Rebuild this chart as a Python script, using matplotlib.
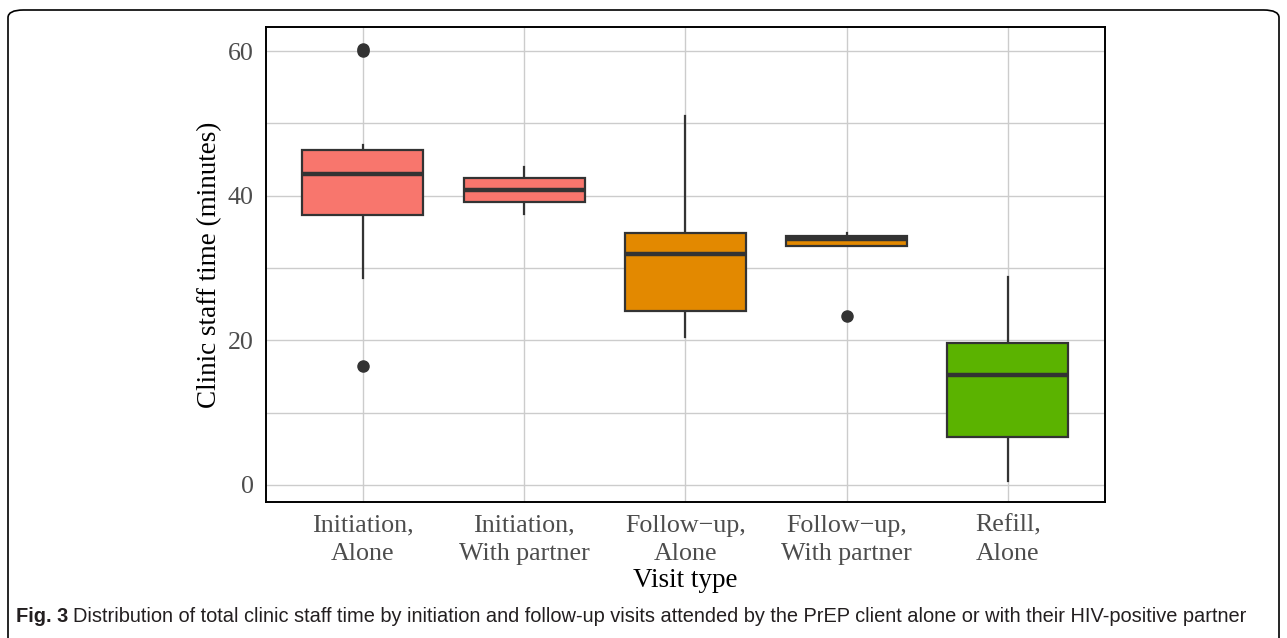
import matplotlib.pyplot as plt
from matplotlib.patches import FancyBboxPatch

# visit types and box statistics (minutes)
categories = ["Initiation,\nAlone", "Initiation,\nWith partner", "Follow\u2212up,\nAlone",
              "Follow\u2212up,\nWith partner", "Refill,\nAlone"]
q1 = [37.3, 39.1, 24.0, 33.0, 6.6]
medians = [43.0, 40.8, 31.9, 34.0, 15.2]
q3 = [46.3, 42.4, 34.9, 34.5, 19.6]
whisker_low = [28.6, 37.5, 20.4, 33.0, 0.5]
whisker_high = [47.0, 44.0, 51.0, 34.8, 28.8]
outliers = [[60.0, 60.3, 16.5], [], [], [23.4], []]
colors = ["#F8766D", "#F8766D", "#E38900", "#E38900", "#5BB300"]
y_ticks = [0, 20, 40, 60]

plt.rcParams['font.family'] = ['Liberation Serif', 'DejaVu Serif']

W, H = 1287, 638
fig = plt.figure(figsize=(W / 100, H / 100), dpi=100)
ax = fig.add_axes([266 / W, 1 - 502.3 / H, (1104.7 - 266) / W, (502.3 - 27.3) / H])

stats = []
for i in range(len(categories)):
    stats.append(dict(q1=q1[i], med=medians[i], q3=q3[i], whislo=whisker_low[i],
                      whishi=whisker_high[i], fliers=outliers[i]))

edge = "#333333"
bp = ax.bxp(stats, positions=range(1, len(categories) + 1), widths=0.75, patch_artist=True,
            showcaps=False,
            boxprops=dict(edgecolor=edge, linewidth=1.6),
            whiskerprops=dict(color=edge, linewidth=1.6),
            medianprops=dict(color=edge, linewidth=3.2, solid_capstyle='butt'),
            flierprops=dict(marker='o', markerfacecolor=edge, markeredgecolor=edge, markersize=8))
for patch, c in zip(bp['boxes'], colors):
    patch.set_facecolor(c)
for w in bp['whiskers']:
    w.set_zorder(1.5)

ax.set_xlim(0.4, 5.6)
ax.set_ylim(-2.4, 63.3)
ax.set_yticks(y_ticks)
ax.set_yticks([10, 30, 50], minor=True)
ax.set_xticks(range(1, len(categories) + 1))
ax.set_xticklabels(categories)
ax.grid(True, which='both', color='#CCCCCC', linewidth=1.0)
ax.set_axisbelow(True)
for s in ax.spines.values():
    s.set_color('black')
    s.set_linewidth(1.4)

ax.tick_params(axis='both', which='major', labelsize=18.75, labelcolor='#4D4D4D',
               length=0, pad=9)
ax.tick_params(axis='y', which='minor', length=0)
for lbl in ax.get_xticklabels():
    lbl.set_linespacing(1.35)

ax.set_xlabel("Visit type", fontsize=19.5, color='black', labelpad=2)
ax.set_ylabel("Clinic staff time (minutes)", fontsize=19.5, color='black', labelpad=4)

# rounded outer frame
frame = FancyBboxPatch((8 / W, -0.05), (1279 - 8) / W, 1 - 10 / H + 0.05,
                       boxstyle="round,pad=0,rounding_size=0.012", transform=fig.transFigure,
                       facecolor='none', edgecolor='black', linewidth=1.2, clip_on=False)
fig.patches.append(frame)

# caption
cap_y = 1 - 617 / H
cap_font = ['Liberation Sans Narrow', 'Liberation Sans', 'DejaVu Sans']
t1 = fig.text(16 / W, cap_y, "Fig. 3", fontsize=14.4, fontweight='bold', family=cap_font,
              color='#231F20', va='center')
fig.canvas.draw()
bb = t1.get_window_extent(fig.canvas.get_renderer())
fig.text((bb.x1 + 5) / W, cap_y,
         "Distribution of total clinic staff time by initiation and follow-up visits attended by "
         "the PrEP client alone or with their HIV-positive partner",
         fontsize=14.4, family=cap_font, color='#231F20', va='center')

fig.savefig("out.png", dpi=100)
